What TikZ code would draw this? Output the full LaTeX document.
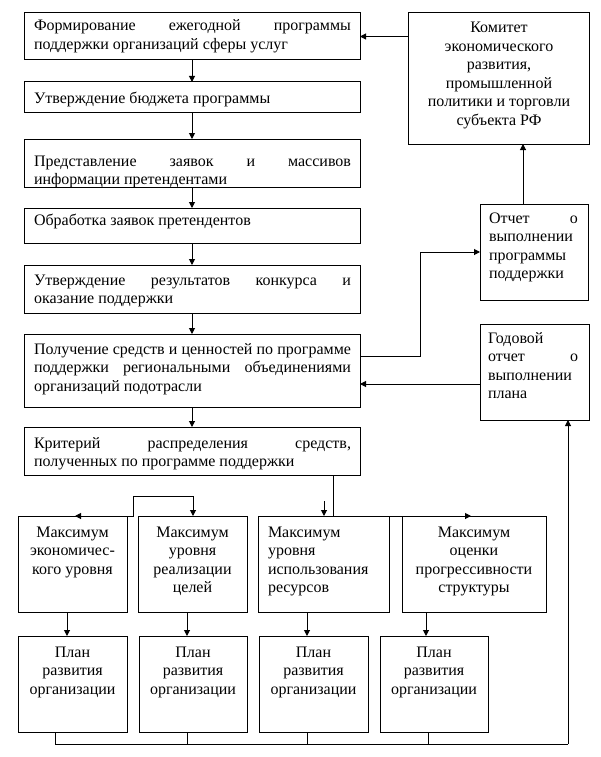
\documentclass[tikz,border=0pt]{standalone}
\usepackage{fontspec}
\setmainfont{Liberation Serif}
\usetikzlibrary{arrows.meta}
\newcommand\mkbox[5]{\node[bx,anchor=north west,minimum width={#4pt-#2pt},minimum height={#5pt-#3pt}] (#1) at (#2,#3) {};}
\newcommand\J[1]{\makebox[\linewidth][s]{#1}}
\begin{document}
\begin{tikzpicture}[x=1pt,y=-1pt,
  bx/.style={draw,line width=1pt,inner sep=0pt,outer sep=0pt},
  tx/.style={inner sep=0pt,outer sep=0pt,font=\fontsize{16}{18.5}\selectfont},
  ln/.style={line width=1pt},
  arr/.style={ln,-{Triangle[length=6pt,width=6pt]}}]
\useasboundingbox (0,0) rectangle (601,757);
% boxes
\mkbox{b1}{24}{13}{360}{60}
\mkbox{b2}{24}{82}{360}{113}
\mkbox{b3}{24}{139}{360}{187}
\mkbox{b4}{24}{208}{360}{243}
\mkbox{b5}{24}{265}{360}{313}
\mkbox{b6}{24}{334}{360}{407}
\mkbox{b7}{24}{427}{360}{475}
\mkbox{kom}{408}{13}{589}{144}
\mkbox{otch}{480}{204}{588}{300}
\mkbox{god}{480}{324}{589}{420}
\mkbox{mA}{18}{516}{127}{612}
\mkbox{mB}{138}{516}{247}{612}
\mkbox{mC}{258}{516}{389}{612}
\mkbox{mD}{402}{516}{546}{612}
\mkbox{pA}{18}{636}{127}{732}
\mkbox{pB}{139}{636}{247}{732}
\mkbox{pC}{259}{636}{368}{732}
\mkbox{pD}{380}{636}{488}{732}
% texts
\node[tx,anchor=base west] (b1t) at (34,31) {\parbox[t]{317pt}{\J{Формирование ежегодной программы}\\поддержки организаций сферы услуг}};
\node[tx,anchor=base west] (b2t) at (34,104) {\parbox[t]{317pt}{Утверждение бюджета программы}};
\node[tx,anchor=base west] (b3t) at (34,166) {\parbox[t]{317pt}{\J{Представление заявок и массивов}\\информации претендентами}};
\node[tx,anchor=base west] (b4t) at (34,225) {\parbox[t]{317pt}{Обработка заявок претендентов}};
\node[tx,anchor=base west] (b5t) at (34,285) {\parbox[t]{317pt}{\J{Утверждение результатов конкурса и}\\оказание поддержки}};
\node[tx,anchor=base west] (b6t) at (34,354) {\parbox[t]{317pt}{\J{Получение средств и ценностей по программе}\\\J{поддержки региональными объединениями}\\организаций подотрасли}};
\node[tx,anchor=base west] (b7t) at (34,448) {\parbox[t]{317pt}{\J{Критерий распределения средств,}\\полученных по программе поддержки}};
\node[tx,anchor=base] (komt) at (499,33) {\parbox[t]{175pt}{\centering Комитет\\экономического\\развития,\\промышленной\\политики и торговли\\субъекта РФ}};
\node[tx,anchor=base west] (otcht) at (489,223) {\parbox[t]{89pt}{\J{Отчет о}\\выполнении\\программы\\поддержки}};
\node[tx,anchor=base west] (godt) at (488,343) {\parbox[t]{90pt}{Годовой\\\J{отчет о}\\выполнении\\плана}};
\node[tx,anchor=base] (mAt) at (72.5,537) {\parbox[t]{105pt}{\centering Максимум\\экономичес-\\кого уровня}};
\node[tx,anchor=base] (mBt) at (192.5,537) {\parbox[t]{105pt}{\centering Максимум\\уровня\\реализации\\целей}};
\node[tx,anchor=base west] (mCt) at (268,537) {\parbox[t]{118pt}{Максимум\\уровня\\использования\\ресурсов}};
\node[tx,anchor=base] (mDt) at (474,537) {\parbox[t]{138pt}{\centering Максимум\\оценки\\прогрессивности\\структуры}};
\node[tx,anchor=base] (pAt) at (72.5,657) {\parbox[t]{105pt}{\centering План\\развития\\организации}};
\node[tx,anchor=base] (pBt) at (193,657) {\parbox[t]{105pt}{\centering План\\развития\\организации}};
\node[tx,anchor=base] (pCt) at (313.5,657) {\parbox[t]{105pt}{\centering План\\развития\\организации}};
\node[tx,anchor=base] (pDt) at (434,657) {\parbox[t]{105pt}{\centering План\\развития\\организации}};
% connectors
\draw[arr] (kom.west |- b1.east) -- (b1.east);
\draw[arr] (b1.south) -- (b2.north);
\draw[arr] (b2.south) -- (b3.north);
\draw[arr] (b3.south) -- (b4.north);
\draw[arr] (b4.south) -- (b5.north);
\draw[arr] (b5.south) -- (b6.north);
\draw[arr] (b6.south) -- (b7.north);
\coordinate (kx) at (523,0);
\draw[arr] (otch.north -| kx) -- (kom.south -| kx);
\coordinate (r1) at (420,356);
\coordinate (r2) at (420,252);
\draw[arr] (b6.east |- r1) -- (r1) -- (r2) -- (otch.west |- r2);
\coordinate (g1) at (0,384);
\draw[arr] (god.west |- g1) -- (b6.east |- g1);
\coordinate (c1) at (333,0);
\draw[ln] (b7.south -| c1) -- (mC.north -| c1);
\coordinate (s1) at (324,501);
\draw[arr] (s1) -- (mC.north -| s1);
\coordinate (j1) at (133,496);
\coordinate (j2) at (193,496);
\coordinate (j3) at (133,516);
\coordinate (j4) at (75,516);
\draw[arr] (j1) -- (j2) -- (mB.north -| j2);
\draw[arr] (j1) -- (j3) -- (j4);
\coordinate (d1) at (471,516);
\draw[arr] (mC.north east) -- (d1);
\foreach \a/\x in {A/67,B/187,C/307,D/426} {
  \coordinate (dx\a) at (\x,0);
  \draw[arr] (m\a.south -| dx\a) -- (p\a.north -| dx\a);
}
\coordinate (bl) at (55,744);
\coordinate (br) at (568,744);
\foreach \a/\x in {A/55,B/187,C/307,D/428} {
  \coordinate (bx\a) at (\x,744);
  \draw[ln] (p\a.south -| bx\a) -- (bx\a);
}
\draw[ln] (bl) -- (br);
\draw[arr] (br) -- (god.south -| br);
\end{tikzpicture}
\end{document}
